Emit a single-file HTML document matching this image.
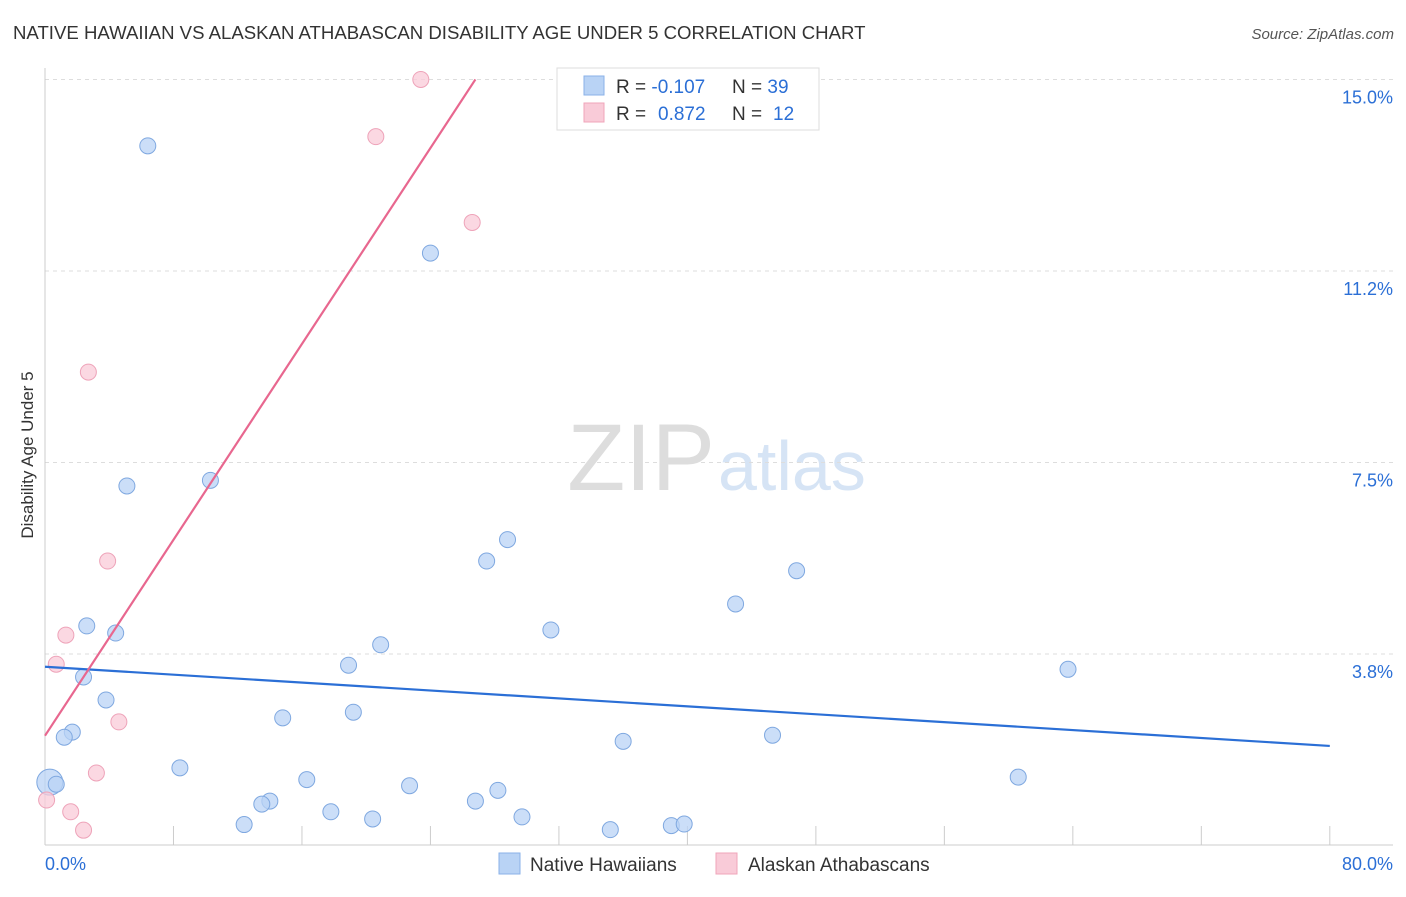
<!DOCTYPE html>
<html><head><meta charset="utf-8"><style>
body{margin:0;background:#fff;font-family:"Liberation Sans",sans-serif;}
svg text{font-family:"Liberation Sans",sans-serif;}
</style></head><body>
<svg id="chart" width="1406" height="892">
<text x="13" y="39" font-size="18.6" fill="#333">NATIVE HAWAIIAN VS ALASKAN ATHABASCAN DISABILITY AGE UNDER 5 CORRELATION CHART</text>
<text x="1394" y="39" font-size="15" fill="#555" font-style="italic" text-anchor="end">Source: ZipAtlas.com</text>
<text x="33" y="455" font-size="17" fill="#333" text-anchor="middle" transform="rotate(-90 33 455)">Disability Age Under 5</text>
<text x="715" y="490" font-size="95" fill="#ddd" text-anchor="end" font-family="Liberation Serif">ZIP</text>
<text x="718" y="490" font-size="70" fill="#d6e4f5">atlas</text>
<g id="grid"></g><g id="pts"></g><g id="lines"></g>
<g>
<rect x="557" y="68" width="262" height="62" fill="#fff" stroke="#ddd"/>
<rect x="584" y="76" width="20" height="19" fill="#b9d3f5" stroke="#8ab2e8"/>
<rect x="584" y="103" width="20" height="19" fill="#f9cbd8" stroke="#f0a4ba"/>
<text x="616" y="93" font-size="19" fill="#333">R = <tspan fill="#2b6fd6">-0.107</tspan><tspan x="732">N = </tspan><tspan fill="#2b6fd6">39</tspan></text>
<text x="616" y="120" font-size="19" fill="#333">R = <tspan fill="#2b6fd6" x="658">0.872</tspan><tspan x="732">N = </tspan><tspan fill="#2b6fd6" x="773">12</tspan></text>
</g>
<g>
<rect x="499" y="853" width="21" height="21" fill="#b9d3f5" stroke="#8ab2e8"/>
<text x="530" y="871" font-size="19" fill="#333">Native Hawaiians</text>
<rect x="716" y="853" width="21" height="21" fill="#f9cbd8" stroke="#f0a4ba"/>
<text x="748" y="871" font-size="19" fill="#333">Alaskan Athabascans</text>
</g>
</svg>
<script>
const yTicks=[3.75,7.5,11.25,15];
const yTickLabels=["3.8%","7.5%","11.2%","15.0%"];
const xTickLabels=["0.0%","80.0%"];
const blueX=[6.4,24.0,5.1,10.3,28.8,27.5,46.8,43.0,2.6,4.4,31.5,20.9,18.9,63.7,2.4,3.8,1.7,1.2,19.2,14.8,45.3,36.0,8.4,0.3,0.7,60.6,16.3,22.7,28.2,26.8,14.0,13.5,17.8,29.7,20.4,12.4,35.2,39.0,39.8];
const blueY=[13.7,11.6,7.04,7.15,5.99,5.57,5.38,4.73,4.30,4.16,4.22,3.93,3.53,3.45,3.30,2.85,2.22,2.12,2.61,2.50,2.16,2.04,1.52,1.24,1.20,1.34,1.29,1.17,1.08,0.87,0.87,0.81,0.66,0.56,0.52,0.41,0.31,0.39,0.42];
const pinkX=[23.4,20.6,26.6,2.7,3.9,1.3,0.7,4.6,3.2,1.6,2.4,0.1];
const pinkY=[15.0,13.88,12.2,9.27,5.57,4.12,3.55,2.42,1.42,0.66,0.30,0.89];
const blueTrend=[3.50,1.95];
const pinkTrend=[2.15,15.0];const pinkTrendX=[0,26.8];
const X=v=>45+v*16.06, Y=v=>845.5-v*51.07;
const NS="http://www.w3.org/2000/svg";
function mk(t,a,p){const e=document.createElementNS(NS,t);for(const k in a)e.setAttribute(k,a[k]);p.appendChild(e);return e;}
const g=document.getElementById('grid');
yTicks.forEach((v,i)=>{
 const l=mk('line',{x1:45,x2:1393,y1:Y(v),y2:Y(v),stroke:'#ddd','stroke-dasharray':'4,4'},g);
 
 
 const t=mk('text',{x:1393,y:Y(v)+24,'font-size':18,fill:'#2b6fd6','text-anchor':'end'},g);t.textContent=yTickLabels[i];
 
 
});
mk('line',{x1:45,x2:45,y1:68,y2:845,stroke:'#ccc'},g);
mk('line',{x1:45,x2:1393,y1:845,y2:845,stroke:'#ccc'},g);
for(let i=0;i<=10;i++){const l=mk('line',{x1:X(i*8),x2:X(i*8),y1:826,y2:845,stroke:'#ccc'},g);
 
 }
[[0,45,'start'],[80,1393,'end']].forEach((d,i)=>{const t=mk('text',{x:d[1],y:870,'font-size':18,fill:'#2b6fd6','text-anchor':d[2]},g);t.textContent=xTickLabels[i];
 
 });
const p=document.getElementById('pts');
blueX.forEach((x,i)=>{const c=mk('circle',{cx:X(x),cy:Y(blueY[i]),r:i==23?13:8,fill:'#b9d3f5','fill-opacity':0.75,stroke:'#7fa8e0'},p);
 
 });
pinkX.forEach((x,i)=>{const c=mk('circle',{cx:X(x),cy:Y(pinkY[i]),r:8,fill:'#f9cbd8','fill-opacity':0.75,stroke:'#eea3b9'},p);
 
 });
const L=document.getElementById('lines');
const b=mk('line',{x1:X(0),y1:Y(blueTrend[0]),x2:X(80),y2:Y(blueTrend[1]),stroke:'#2b6fd6','stroke-width':2.2},L);


const pk=mk('line',{x1:X(pinkTrendX[0]),y1:Y(pinkTrend[0]),x2:X(pinkTrendX[1]),y2:Y(pinkTrend[1]),stroke:'#e8678f','stroke-width':2.2},L);


</script>
</body></html>
